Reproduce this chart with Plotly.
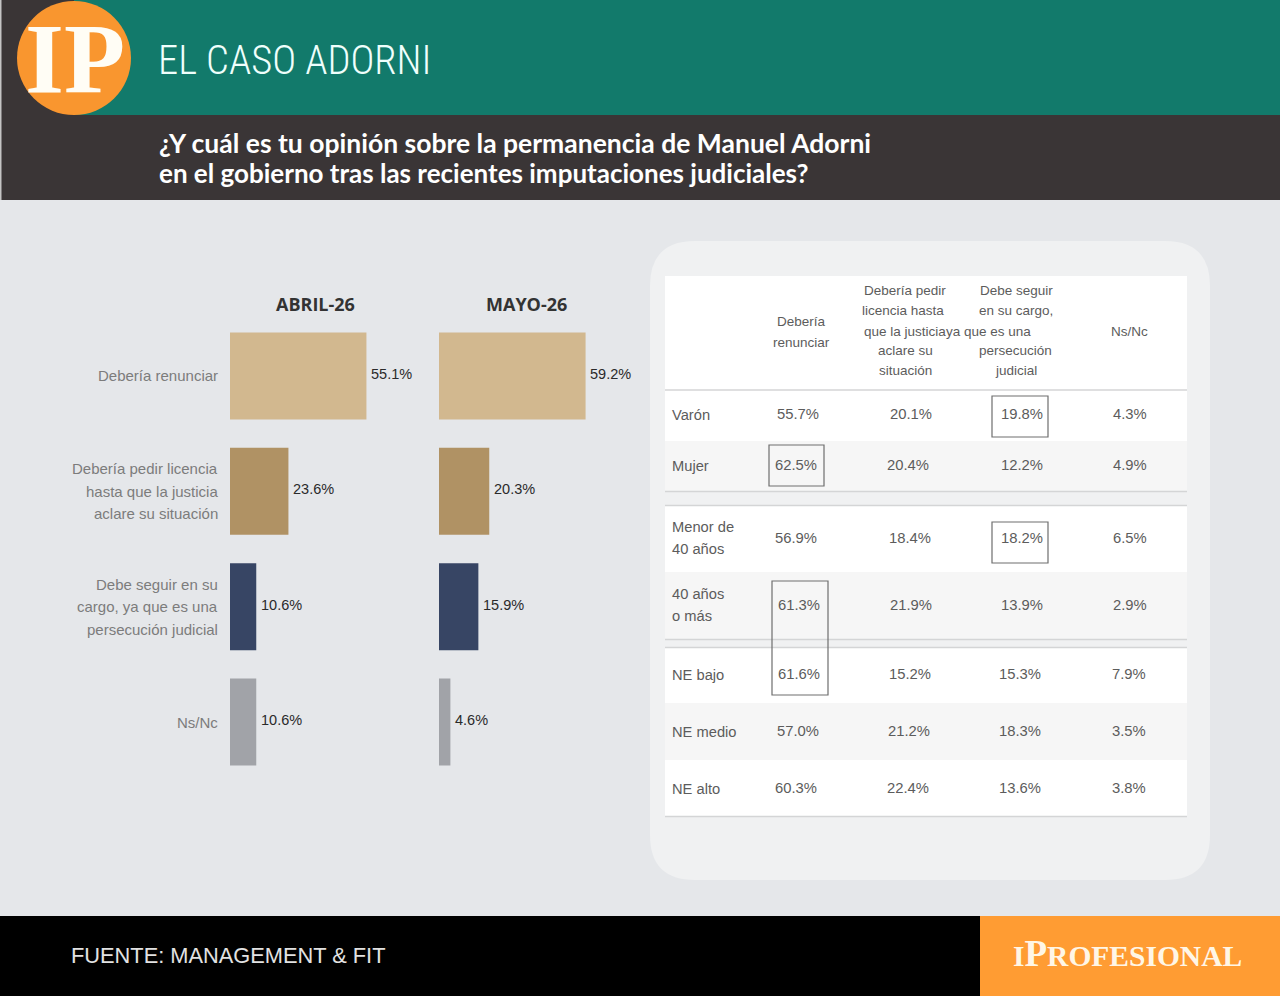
import plotly.graph_objects as go

# bars
categorias = ["Debería renunciar", "Debería pedir licencia<br>hasta que la justicia<br>aclare su situación",
              "Debe seguir en su<br>cargo, ya que es una<br>persecución judicial", "Ns/Nc"]
abril = [55.1, 23.6, 10.6, 10.6]
mayo = [59.2, 20.3, 15.9, 4.6]

# table
filas = ["Varón", "Mujer", "Menor de<br>40 años", "40 años<br>o más", "NE bajo", "NE medio", "NE alto"]
renunciar = [55.7, 62.5, 56.9, 61.3, 61.6, 57.0, 60.3]
licencia = [20.1, 20.4, 18.4, 21.9, 15.2, 21.2, 22.4]
seguir = [19.8, 12.2, 18.2, 13.9, 15.3, 18.3, 13.6]
nsnc = [4.3, 4.9, 6.5, 2.9, 7.9, 3.5, 3.8]

W = 1280
H = 996
SANS = "Liberation Sans"
SERIF = "Liberation Serif"
colores = ["#D2B88F", "#B09264", "#374564", "#A1A3A8"]

def px(x):
    return x / W

def py(y):
    return 1 - y / H

shapes = []
annotations = []

def rect(x0, y0, x1, y1, color):
    shapes.append(dict(type="rect", xref="paper", yref="paper", x0=px(x0), x1=px(x1), y0=py(y0), y1=py(y1),
                       fillcolor=color, line=dict(width=0), layer="below"))

def hline(y, x0=665, x1=1187, color="#D4D5D6"):
    shapes.append(dict(type="line", xref="paper", yref="paper", x0=px(x0), x1=px(x1), y0=py(y), y1=py(y),
                       line=dict(color=color, width=1.5), layer="below"))

def box(x0, y0, x1, y1):
    shapes.append(dict(type="rect", xref="paper", yref="paper", x0=px(x0), x1=px(x1), y0=py(y0), y1=py(y1),
                       fillcolor="rgba(0,0,0,0)", line=dict(color="#6E6E6E", width=1.2), layer="above"))

def texto(x, y, s, size=14, color="#5C5C5C", font=SANS, anchor="center", weight=None):
    annotations.append(dict(xref="paper", yref="paper", x=px(x), y=py(y), text=s, showarrow=False,
                            xanchor=anchor, yanchor="middle", align=anchor,
                            font=dict(family=font, size=size, color=color, weight=weight)))

# header and footer bands
rect(0, 0, W, 200, "#3A3536")
rect(0, 0, 1.5, 200, "#C4C4C4")
rect(74, 0, W, 115, "#127A6B")
rect(0, 916, 980, 996, "#000000")
rect(980, 916, W, 996, "#FF9C33")
shapes.append(dict(type="circle", xref="paper", yref="paper", x0=px(17), x1=px(131), y0=py(1), y1=py(115),
                   fillcolor="#F9962F", line=dict(width=0), layer="below"))
texto(75, 58, "<b>IP</b>", size=100, color="#FFFDF5", font=SERIF)
texto(156, 60, "EL CASO ADORNI", size=40.5, color="#EFFFFC", font="Roboto Condensed", anchor="left", weight=300)
texto(157, 143, "<b>¿Y cuál es tu opinión sobre la permanencia de Manuel Adorni</b>", size=26.5, color="#FFFFFF", font="Lato", anchor="left")
texto(157, 173, "<b>en el gobierno tras las recientes imputaciones judiciales?</b>", size=26, color="#FFFFFF", font="Lato", anchor="left")
texto(69, 955, "FUENTE: MANAGEMENT &amp; FIT", size=21.8, color="#E2E2E2", anchor="left")
texto(1127, 953, '<b>I<span style="font-size:37px">P</span>ROFESIONAL</b>', size=29.5, color="#FFF6E6", font=SERIF)

# card behind the table
cx0, cy0, cx1, cy1, r = px(650), py(241), px(1210), py(880), 45
rx = r / W
ry = r / H
shapes.append(dict(type="path", xref="paper", yref="paper", fillcolor="#F0F1F2", line=dict(width=0), layer="below",
                   path=f"M {cx0+rx} {cy0} L {cx1-rx} {cy0} Q {cx1} {cy0} {cx1} {cy0-ry} L {cx1} {cy1+ry} "
                        f"Q {cx1} {cy1} {cx1-rx} {cy1} L {cx0+rx} {cy1} Q {cx0} {cy1} {cx0} {cy1+ry} "
                        f"L {cx0} {cy0-ry} Q {cx0} {cy0} {cx0+rx} {cy0} Z"))

# table rows
rect(665, 276, 1187, 441, "#FFFFFF")
rect(665, 441, 1187, 491, "#F6F6F6")
rect(665, 506, 1187, 572, "#FFFFFF")
rect(665, 572, 1187, 639, "#F6F6F6")
rect(665, 648, 1187, 703, "#FFFFFF")
rect(665, 703, 1187, 760, "#F6F6F6")
rect(665, 760, 1187, 816, "#FFFFFF")
for y in [390, 491.5, 505.5, 639.5, 647.5, 816.5]:
    hline(y)

box(992, 396, 1048, 437)
box(769, 445, 824, 486)
box(992, 522, 1048, 563)
box(772, 581, 828, 695)

# table header, one line at a time because of the line spacing
encabezados = [
    (801, 321, "Debería"), (801, 342, "renunciar"),
    (905, 290, "Debería pedir"), (903, 310, "licencia hasta"), (905, 331, "que la justicia"),
    (905, 351, "aclare su"), (905, 371, "situación"),
    (1016, 290, "Debe seguir"), (1016, 310, "en su cargo,"), (988, 331, "ya que es una"),
    (1015, 351, "persecución"), (1016, 371, "judicial"), (1129, 332, "Ns/Nc"),
]
for x, y, s in encabezados:
    texto(x, y, s, size=13.5)

# the cells are not quite centred in the original, so each column keeps its own x per row
filas_y = [414, 465, 538, 605, 674, 731, 788]
col1_x = [798, 796, 796, 799, 799, 798, 796]
col2_x = [911, 908, 910, 911, 910, 909, 908]
col3_x = [1022, 1022, 1022, 1022, 1020, 1020, 1020]
col4_x = [1130, 1130, 1130, 1130, 1129, 1129, 1129]
for i, fila in enumerate(filas):
    y = filas_y[i]
    lineas = fila.split("<br>")
    if len(lineas) == 1:
        texto(670, y + 1, lineas[0], size=14.7, anchor="left")
    else:
        texto(670, y - 11, lineas[0], size=14.7, anchor="left")
        texto(670, y + 11, lineas[1], size=14.7, anchor="left")
    texto(col1_x[i], y, f"{renunciar[i]:.1f}%", size=14.8)
    texto(col2_x[i], y, f"{licencia[i]:.1f}%", size=14.8)
    texto(col3_x[i], y, f"{seguir[i]:.1f}%", size=14.8)
    texto(col4_x[i], y, f"{nsnc[i]:.1f}%", size=14.8)

# left labels of the bars
for cat in categorias:
    lineas = cat.split("<br>")
    for i, linea in enumerate(lineas):
        annotations.append(dict(xref="paper", yref="y", x=px(220), y=cat, text=linea, showarrow=False,
                                xanchor="right", yanchor="middle",
                                yshift=-(i - (len(lineas) - 1) / 2) * 22.5,
                                font=dict(family=SANS, size=15, color="#7C7C7C")))

texto(315, 303.5, "<b>ABRIL-26</b>", size=18, color="#333333", font="Open Sans")
texto(526, 303.5, "<b>MAYO-26</b>", size=18, color="#333333", font="Open Sans")

fig = go.Figure()
for serie, xa, ya in [(abril, "x", "y"), (mayo, "x2", "y2")]:
    fig.add_trace(go.Bar(x=serie, y=categorias, orientation="h", xaxis=xa, yaxis=ya, marker_color=colores,
                         marker_line_width=0, hoverinfo="skip"))
    # value labels sit a little above the middle of the bar
    for cat, v in zip(categorias, serie):
        annotations.append(dict(xref=xa, yref=ya, x=v, y=cat, text=f"{v:.1f}%", showarrow=False,
                                xanchor="left", yanchor="middle", xshift=2.5, yshift=2,
                                font=dict(family=SANS, size=14.5, color="#2A2A2A")))

# 2.476 px per percentage point
eje = dict(showgrid=False, zeroline=False, showticklabels=False, ticks="", showline=False)
fig.update_layout(
    width=W, height=H, margin=dict(l=0, r=0, t=0, b=0), showlegend=False,
    paper_bgcolor="#E5E7EA", plot_bgcolor="rgba(0,0,0,0)", bargap=0.245,
    xaxis=dict(domain=[px(230), px(430)], range=[0, 200 / 2.476], **eje),
    xaxis2=dict(domain=[px(439), px(639)], range=[0, 200 / 2.476], **eje),
    yaxis=dict(domain=[py(779.7), py(318.3)], autorange="reversed", **eje),
    yaxis2=dict(domain=[py(779.7), py(318.3)], autorange="reversed", anchor="x2", **eje),
    shapes=shapes, annotations=annotations,
)

# plotly leaves the browser's default body margin, the picture has none
fig.write_html("out.html", config=dict(displayModeBar=False),
               post_script="document.body.style.margin='0';document.body.style.overflow='hidden';")
